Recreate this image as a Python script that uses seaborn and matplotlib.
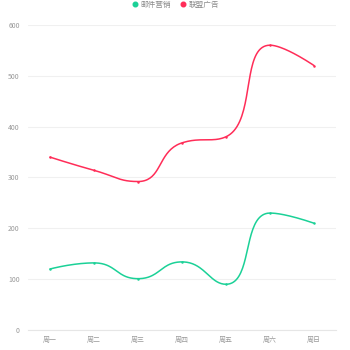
import numpy as np
import pandas as pd
import matplotlib
matplotlib.use("Agg")
import matplotlib.pyplot as plt
import seaborn as sns

categories = ["周一", "周二", "周三", "周四", "周五", "周六", "周日"]
email = [120, 132, 101, 134, 90, 230, 210]
union_ad = [220, 182, 191, 234, 290, 330, 310]
series_names = ["邮件营销", "联盟广告"]
colors = ["#1bd197", "#ff2d58"]
y_ticks = [0, 100, 200, 300, 400, 500, 600]

sns.set_theme(style="white")
plt.rcParams["font.family"] = ["Noto Sans CJK SC", "DejaVu Sans"]

# stacked values (series stacked as in the reference)
stacked = [np.array(email, float), np.array(email, float) + np.array(union_ad, float)]

fig = plt.figure(figsize=(3.5, 3.5), dpi=100)
ax = fig.add_axes([0.08, 0.057, 0.88, 0.872])
ax.set_xlim(-0.5, len(categories) - 0.5)
ax.set_ylim(0, 600)
ax.set_yticks(y_ticks)
ax.set_xticks(range(len(categories)))
ax.set_xticklabels(categories)
ax.grid(axis="y", color="#f0f0f0", lw=0.8)
ax.set_axisbelow(True)
for s in ["top", "right", "left"]:
    ax.spines[s].set_visible(False)
ax.spines["bottom"].set_color("#e6e6e6")
ax.spines["bottom"].set_linewidth(0.8)
ax.tick_params(axis="both", length=0, labelsize=5, colors="#999999", pad=4)
ax.tick_params(axis="y", pad=6)


def smooth_curve(xd, yd, smooth=0.5, n=40):
    pts = ax.transData.transform(np.column_stack([xd, yd]))
    px, py = pts[:, 0], pts[:, 1]
    m = len(px)
    cp0 = (px[0], py[0])
    out = []
    u = np.linspace(0, 1, n)[:, None]
    for k in range(1, m):
        x, y = px[k], py[k]
        prevX, prevY = px[k - 1], py[k - 1]
        if k == m - 1:
            cp1 = (x, y)
            ncp = (x, y)
        else:
            nextX, nextY = px[k + 1], py[k + 1]
            vx, vy = nextX - prevX, nextY - prevY
            lp = np.hypot(x - prevX, y - prevY)
            ln = np.hypot(nextX - x, nextY - y)
            r = ln / (ln + lp)
            ncx = x + vx * smooth * r
            ncy = y + vy * smooth * r
            ncx = max(min(ncx, max(nextX, x)), min(nextX, x))
            ncy = max(min(ncy, max(nextY, y)), min(nextY, y))
            vx, vy = ncx - x, ncy - y
            c1x = x - vx * lp / ln
            c1y = y - vy * lp / ln
            c1x = max(min(c1x, max(prevX, x)), min(prevX, x))
            c1y = max(min(c1y, max(prevY, y)), min(prevY, y))
            vx, vy = x - c1x, y - c1y
            ncx = x + vx * ln / lp
            ncy = y + vy * ln / lp
            cp1 = (c1x, c1y)
            ncp = (ncx, ncy)
        p0 = np.array([prevX, prevY])
        p1 = np.array(cp0)
        p2 = np.array(cp1)
        p3 = np.array([x, y])
        b = (1 - u) ** 3 * p0 + 3 * (1 - u) ** 2 * u * p1 + 3 * (1 - u) * u ** 2 * p2 + u ** 3 * p3
        out.append(b if k == 1 else b[1:])
        cp0 = ncp
    out = np.vstack(out)
    return ax.transData.inverted().transform(out)


xpos = np.arange(len(categories))
for name, vals, c in zip(series_names, stacked, colors):
    curve = smooth_curve(xpos, vals)
    df = pd.DataFrame({"x": curve[:, 0], "y": curve[:, 1]})
    sns.lineplot(data=df, x="x", y="y", ax=ax, color=c, lw=1.1, sort=False, estimator=None)
    ax.plot(xpos, vals, linestyle="none", marker="o", ms=1.8, color=c, mew=0, zorder=5)

ax.set_xlabel("")
ax.set_ylabel("")

handles = [plt.Line2D([], [], linestyle="none", marker="o", ms=3.3, color=c) for c in colors]
leg = fig.legend(handles, series_names, loc="upper center", bbox_to_anchor=(0.5, 1.018), ncol=2,
                 frameon=False, fontsize=5.5, handletextpad=0.2, columnspacing=1.2,
                 handlelength=1.0, labelcolor="#8a8a8a")

fig.savefig("out.png", dpi=100)
